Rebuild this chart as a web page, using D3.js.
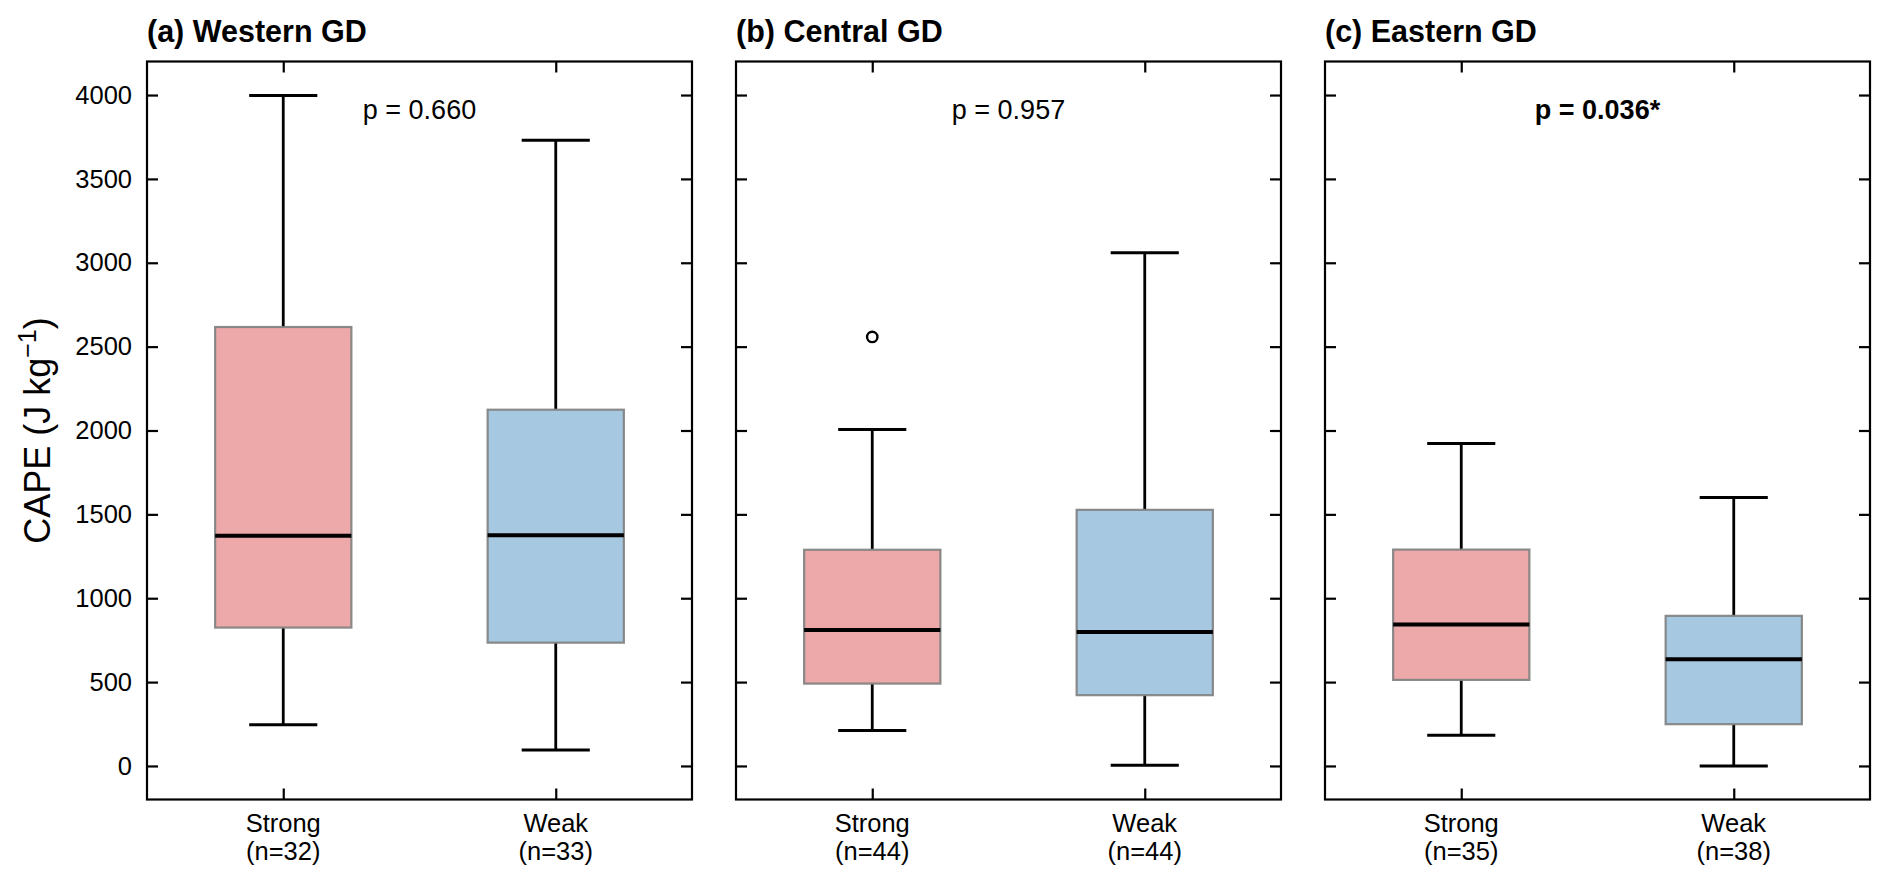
<!DOCTYPE html>
<html>
<head>
<meta charset="utf-8">
<script src="https://cdn.jsdelivr.net/npm/d3@7"></script>
<style>
  body { margin: 0; background: #fff; }
  svg { font-family: "Liberation Sans", Arial, sans-serif; }
</style>
</head>
<body>
<svg id="canvas"></svg>
<script>
// data
let panelTitles = ["(a) Western GD", "(b) Central GD", "(c) Eastern GD"]
let groups = ["Strong", "Weak"]
let counts = [[32, 33], [44, 44], [35, 38]]
let pLabels = ["p = 0.660", "p = 0.957", "p = 0.036*"]
let pBold = [false, false, true]
// [lower whisker, q1, median, q3, upper whisker]
let strongStats = [[245, 825, 1372, 2617, 3998], [211, 491, 811, 1289, 2006], [183, 513, 843, 1290, 1923]]
let weakStats = [[95, 735, 1376, 2124, 3731], [4, 422, 799, 1527, 3060], [0, 249, 636, 895, 1601]]
let strongOutliers = [[], [2558], []]
let weakOutliers = [[], [], []]
let yTicks = [0, 500, 1000, 1500, 2000, 2500, 3000, 3500, 4000]
let groupColors = ["#eda8aa", "#a6c8e0"]

let width = 1892
let height = 886
let plotTop = 61.5, plotBottom = 799.5
let plotLeft = 147, plotRight = 1870

let svg = d3.select('#canvas').attr('width', width).attr('height', height)

let panelScale = d3.scaleBand().domain(d3.range(3)).range([plotLeft, plotRight]).paddingInner(0.0747).paddingOuter(0)
let pw = panelScale.bandwidth()

let yScale = d3.scaleLinear().domain([-200, 4200]).range([plotBottom, plotTop])
let xScale = d3.scaleLinear().domain([0.5, 2.5]).range([0, pw])

let tickLen = 11

panelTitles.forEach((title, i) => {
    let g = svg.append('g').attr('transform', `translate(${panelScale(i)},0)`)

    let stats = [strongStats[i], weakStats[i]]
    let outs = [strongOutliers[i], weakOutliers[i]]

    stats.forEach((s, j) => {
        let cx = xScale(j + 1)
        let bw = xScale(1.5) - xScale(1.0) // box width 0.5
        let cw = bw / 2
        let b = g.append('g')
        // whiskers
        b.append('line').attr('x1', cx).attr('x2', cx).attr('y1', yScale(s[3])).attr('y2', yScale(s[4]))
            .attr('stroke', '#000').attr('stroke-width', 2.8)
        b.append('line').attr('x1', cx).attr('x2', cx).attr('y1', yScale(s[1])).attr('y2', yScale(s[0]))
            .attr('stroke', '#000').attr('stroke-width', 2.8)
        // caps
        ;[s[0], s[4]].forEach(v => {
            b.append('line').attr('x1', cx - cw / 2).attr('x2', cx + cw / 2).attr('y1', yScale(v)).attr('y2', yScale(v))
                .attr('stroke', '#000').attr('stroke-width', 3)
        })
        // box
        b.append('rect').attr('x', cx - bw / 2).attr('width', bw)
            .attr('y', yScale(s[3])).attr('height', yScale(s[1]) - yScale(s[3]))
            .attr('fill', groupColors[j]).attr('stroke', '#7f7f7f').attr('stroke-opacity', 0.9).attr('stroke-width', 2.2)
        // median
        b.append('line').attr('x1', cx - bw / 2).attr('x2', cx + bw / 2).attr('y1', yScale(s[2])).attr('y2', yScale(s[2]))
            .attr('stroke', '#000').attr('stroke-width', 4)
        // outliers
        outs[j].forEach(v => {
            b.append('circle').attr('cx', cx).attr('cy', yScale(v)).attr('r', 5.2)
                .attr('fill', 'none').attr('stroke', '#000').attr('stroke-width', 2.4)
        })
    })

    // axes, ticks pointing inward
    let yLeft = d3.axisLeft(yScale).tickValues(yTicks).tickSize(-tickLen).tickPadding(15).tickFormat(d3.format('d'))
    if (i > 0) yLeft.tickFormat('')
    let yRight = d3.axisRight(yScale).tickValues(yTicks).tickSize(-tickLen).tickFormat('')
    let xTop = d3.axisTop(xScale).tickValues([1, 2]).tickSize(-tickLen).tickFormat('')
    let xBottom = d3.axisBottom(xScale).tickValues([1, 2]).tickSize(-tickLen).tickFormat('')

    let axes = [
        g.append('g').call(yLeft),
        g.append('g').attr('transform', `translate(${pw},0)`).call(yRight),
        g.append('g').attr('transform', `translate(0,${plotTop})`).call(xTop),
        g.append('g').attr('transform', `translate(0,${plotBottom})`).call(xBottom)
    ]
    axes.forEach(a => {
        a.select('.domain').remove()
        a.selectAll('.tick line').attr('stroke', '#000').attr('stroke-width', 2.2)
        a.selectAll('.tick text').attr('font-size', 25.5).attr('fill', '#000')
            .attr('font-family', '"Liberation Sans", Arial, sans-serif')
    })

    // frame
    g.append('rect').attr('x', 0).attr('y', plotTop).attr('width', pw).attr('height', plotBottom - plotTop)
        .attr('fill', 'none').attr('stroke', '#000').attr('stroke-width', 2.2)

    // title
    g.append('text').attr('x', 0).attr('y', 42).attr('font-size', 30.5).attr('font-weight', 'bold')
        .text(title)

    // p value
    g.append('text').attr('x', pw / 2).attr('y', 119).attr('text-anchor', 'middle').attr('font-size', 27)
        .attr('font-weight', pBold[i] ? 'bold' : 'normal').text(pLabels[i])

    // category labels
    groups.forEach((name, j) => {
        let t = g.append('text').attr('text-anchor', 'middle').attr('font-size', 25.5)
        t.append('tspan').attr('x', xScale(j + 1)).attr('y', 832).text(name)
        t.append('tspan').attr('x', xScale(j + 1)).attr('y', 860).text(`(n=${counts[i][j]})`)
    })
})

// y label
let yl = svg.append('text').attr('transform', `translate(50,${(plotTop + plotBottom) / 2}) rotate(-90)`)
    .attr('text-anchor', 'middle').attr('font-size', 36)
yl.append('tspan').text('CAPE (J kg')
yl.append('tspan').attr('font-size', 25).attr('dy', -14).text('\u22121')
yl.append('tspan').attr('dy', 14).text(')')
</script>
</body>
</html>
